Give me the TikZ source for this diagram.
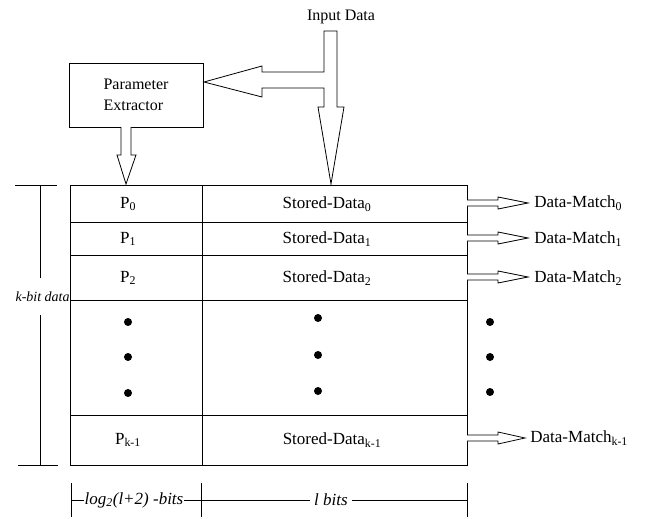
\documentclass[tikz,border=0pt]{standalone}
\usepackage{fontspec}
\setmainfont{Liberation Serif}
\usepackage{tikz}
\usepackage{xcolor}
\usetikzlibrary{positioning}

\tikzset{
    cell/.style={font=\fontsize{17}{19}\selectfont, inner sep=1pt},
    dim/.style={font=\fontsize{17}{19}\selectfont\itshape, fill=white, inner sep=1pt},
    dot/.style={circle, fill=black, inner sep=0pt, minimum size=8pt},
    block/.style={draw=black, line width=0.8pt, fill=white}
}

\begin{document}
\begin{tikzpicture}[x=1pt, y=-1pt, line width=0.8pt]
            \useasboundingbox (0, 0) rectangle (646, 519);

            % extractor and input
            \node[cell, font=\fontsize{16}{18}\selectfont] (input) at (341, 17) {Input Data};
            \node[draw=black, line width=0.8pt, minimum width=134pt, minimum height=64pt, align=left, font=\fontsize{16}{21}\selectfont] (extractor) at (136, 95) {Parameter\\Extractor};

            \draw[block] (324, 31) -- (337, 31) -- (337, 107) -- (344, 107) -- (331, 184) -- (318, 107) -- (324, 107) -- (324, 88) -- (262, 88) -- (262, 97) -- (204, 82) -- (262, 66) -- (262, 72) -- (324, 72) -- cycle;
            \draw[block] (121, 127) -- (121, 155) -- (117, 155) -- (126, 184) -- (136, 155) -- (131, 155) -- (131, 127);

            % table
            \draw (70, 185) rectangle (467, 465);
            \draw (202, 185) -- (202, 465);
            \draw (70, 222) -- (467, 222);
            \draw (70, 255) -- (467, 255);
            \draw (70, 300) -- (467, 300);
            \draw (70, 415) -- (467, 415);

            \node[cell] (p0) at (128, 204) {P\textsubscript{0}};
            \node[cell] (p1) at (128, 239) {P\textsubscript{1}};
            \node[cell] (p2) at (128, 278) {P\textsubscript{2}};
            \node[cell] (pk) at (128, 440) {P\textsubscript{k-1}};

            \node[cell] (s0) at (327, 204) {Stored-Data\textsubscript{0}};
            \node[cell] (s1) at (327, 239) {Stored-Data\textsubscript{1}};
            \node[cell] (s2) at (327, 278) {Stored-Data\textsubscript{2}};
            \node[cell] (sk) at (332, 440) {Stored-Data\textsubscript{k-1}};

            \node[dot] (d1) at (128, 322) {};
            \node[dot] (d2) at (128, 357) {};
            \node[dot] (d3) at (128, 393) {};
            \node[dot] (d4) at (318, 318) {};
            \node[dot] (d5) at (318, 355) {};
            \node[dot] (d6) at (318, 391) {};
            \node[dot] (d7) at (490, 322) {};
            \node[dot] (d8) at (490, 357) {};
            \node[dot] (d9) at (490, 392) {};

            % match outputs
            \draw[block, shift={(467, 203)}] (0, -3) -- (31, -3) -- (31, -6) -- (61, 0) -- (31, 6) -- (31, 3) -- (0, 3);
            \draw[block, shift={(467, 238)}] (0, -3) -- (31, -3) -- (31, -6) -- (61, 0) -- (31, 6) -- (31, 3) -- (0, 3);
            \draw[block, shift={(467, 277)}] (0, -3) -- (31, -3) -- (31, -6) -- (61, 0) -- (31, 6) -- (31, 3) -- (0, 3);
            \draw[block, shift={(467, 438)}] (0, -3) -- (31, -3) -- (31, -6) -- (58, 0) -- (31, 6) -- (31, 3) -- (0, 3);

            \node[cell, anchor=west] (m0) at (533, 203) {Data-Match\textsubscript{0}};
            \node[cell, anchor=west] (m1) at (533, 239) {Data-Match\textsubscript{1}};
            \node[cell, anchor=west] (m2) at (533, 278) {Data-Match\textsubscript{2}};
            \node[cell, anchor=west] (mk) at (529, 438) {Data-Match\textsubscript{k-1}};

            % k-bit dimension
            \draw (15, 185) -- (57, 185);
            \draw (18, 465) -- (58, 465);
            \node[font=\fontsize{14}{16}\selectfont\itshape, anchor=east, inner sep=0pt] (kbit) at (70, 297) {k-bit data};
            \coordinate (ktop) at (40, 185);
            \coordinate (kbot) at (40, 465);
            \draw (ktop) -- (40, 278);
            \draw (40, 315) -- (kbot);

            % width dimension
            \draw (71, 483) -- (71, 517);
            \draw (201, 483) -- (201, 517);
            \draw (467, 483) -- (467, 517);
            \draw (71, 500) -- (467, 500);
            \node[dim] (logbits) at (134, 500) {log\textsubscript{2}(l+2) -bits};
            \node[dim, inner sep=4pt] (lbits) at (331, 500) {l bits};
\end{tikzpicture}
\end{document}
